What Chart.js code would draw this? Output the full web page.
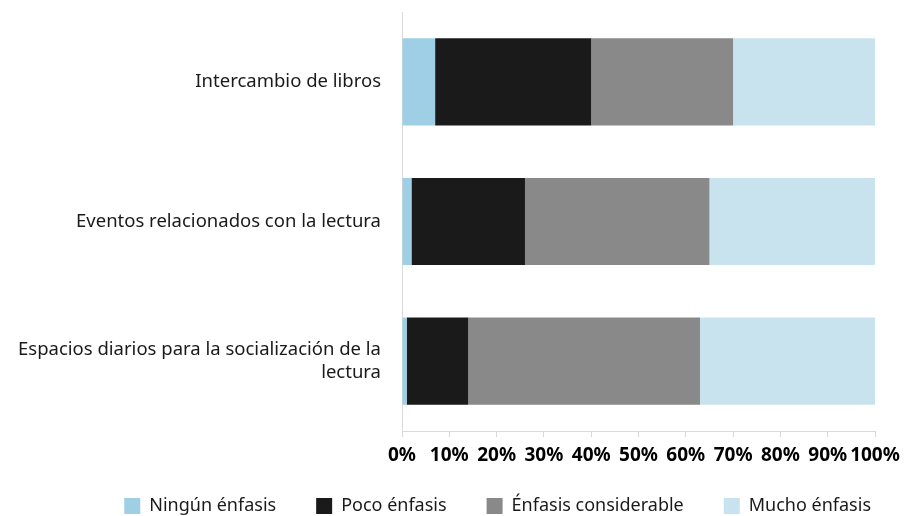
<!DOCTYPE html>
<html>
<head>
<meta charset="utf-8">
<script src="https://cdn.jsdelivr.net/npm/chart.js@4/dist/chart.umd.min.js"></script>
<style>
html,body{margin:0;padding:0;background:#fff;}
#wrap{width:911px;height:516px;position:relative;}
</style>
</head>
<body>
<div id="wrap"><canvas id="c" width="911" height="516"></canvas></div>
<script>
const categories = [
  "Intercambio de libros",
  "Eventos relacionados con la lectura",
  ["Espacios diarios para la socialización de la", "lectura"]
];
const seriesNames = ["Ningún énfasis", "Poco énfasis", "Énfasis considerable", "Mucho énfasis"];
const ningun = [7, 2, 1];
const poco = [33, 24, 13];
const considerable = [30, 39, 49];
const mucho = [30, 35, 37];
const colors = ["#9ecfe4", "#1a1a1a", "#898989", "#c9e3ee"];
const xTicks = [0, 10, 20, 30, 40, 50, 60, 70, 80, 90, 100];

const FONT = "'Noto Sans', sans-serif";
const values = [ningun, poco, considerable, mucho];

new Chart(document.getElementById('c'), {
  type: 'bar',
  data: {
    labels: categories,
    datasets: seriesNames.map((n, i) => ({
      label: n,
      data: values[i],
      backgroundColor: colors[i],
      borderWidth: 0,
      barPercentage: 0.78,
      categoryPercentage: 0.8
    }))
  },
  options: {
    indexAxis: 'y',
    responsive: false,
    animation: false,
    layout: { padding: { left: 0, right: 0, top: 12, bottom: 0 } },
    plugins: {
      tooltip: { enabled: false },
      legend: {
        position: 'bottom',
        align: 'end',
        maxHeight: 59,
        labels: {
          font: { family: FONT, size: 18 },
          color: '#1a1a1a',
          boxWidth: 16,
          boxHeight: 16,
          padding: 40
        }
      }
    },
    scales: {
      x: {
        stacked: true,
        min: 0,
        max: 100,
        afterBuildTicks: (s) => { s.ticks = xTicks.map(v => ({ value: v })); },
        afterFit: (s) => {
          s.height = 26;
          s.paddingRight = 36;
          s._computeLabelArea = () => undefined;
        },
        ticks: {
          callback: (v) => v + '%',
          font: { family: FONT, size: 19, weight: 'bold' },
          color: '#000',
          padding: 7,
          maxRotation: 0,
          autoSkip: false
        },
        grid: { drawOnChartArea: false, drawTicks: true, tickLength: 6, color: '#d9d9d9' },
        border: { display: true, color: '#d9d9d9' }
      },
      y: {
        stacked: true,
        afterFit: (s) => { s.width = 402; s.paddingTop = 0; s.paddingBottom = 0; },
        ticks: {
          font: { family: FONT, size: 18.5 },
          color: '#1a1a1a',
          padding: 21
        },
        grid: { display: false, drawTicks: false },
        border: { display: true, color: '#d9d9d9' }
      }
    }
  }
});
</script>
</body>
</html>
